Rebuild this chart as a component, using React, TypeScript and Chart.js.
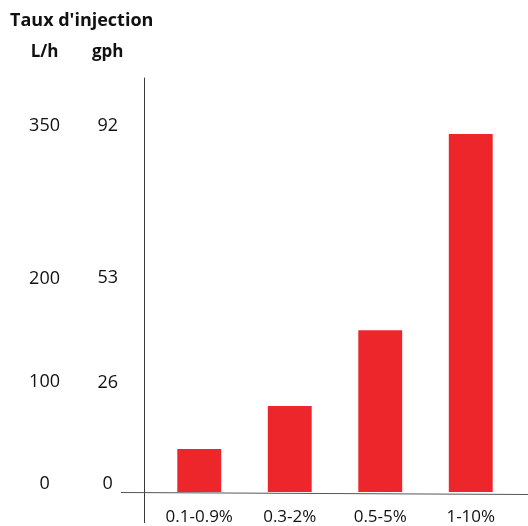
import React, { useEffect, useRef } from "react";
import { Chart, registerables } from "chart.js";

Chart.register(...registerables);

const categories = ["0.1-0.9%", "0.3-2%", "0.5-5%", "1-10%"];
const injectionLh = [42, 84, 158, 350];
const lhTicks = [0, 100, 200, 350];
const gphTicks = [0, 26, 53, 92];
const titleText = "Taux d'injection";
const lhHeader = "L/h";
const gphHeader = "gph";

const FONT = "'Open Sans', 'Noto Sans', sans-serif";
const Y_MAX = 405;
const TICK_SIZE = 18;

const decorPlugin = {
  id: "decor",
  afterDraw(chart: any) {
    const { ctx, chartArea, width } = chart;
    ctx.save();
    ctx.strokeStyle = "#3a3a3a";
    ctx.lineWidth = 1;
    const vx = Math.round(chartArea.left - 10) + 0.5;
    ctx.beginPath();
    ctx.moveTo(vx, chartArea.top);
    ctx.lineTo(vx, chartArea.bottom + 31);
    ctx.stroke();
    const hy = Math.round(chart.scales.y.getPixelForValue(0)) + 0.5;
    ctx.strokeStyle = "#555";
    ctx.beginPath();
    ctx.moveTo(chartArea.left - 33, hy);
    ctx.lineTo(width, hy + 2);
    ctx.stroke();
    ctx.fillStyle = "#111";
    ctx.textAlign = "center";
    ctx.textBaseline = "middle";
    const headers: [string, string][] = [["y", lhHeader], ["y2", gphHeader]];
    headers.forEach(([id, text]) => {
      const s = chart.scales[id];
      ctx.font = `${TICK_SIZE}px ${FONT}`;
      const w = Math.max(...s.ticks.map((t: any) => ctx.measureText(String(t.label)).width));
      const cx = s.right - s.options.ticks.padding - w / 2;
      ctx.font = `bold 17px ${FONT}`;
      ctx.fillText(text, cx, 52);
    });
    ctx.restore();
  },
};

export default function App() {
  const canvasRef = useRef<HTMLCanvasElement>(null);
  useEffect(() => {
    document.body.style.margin = "0";
    const chart = new Chart(canvasRef.current!, {
      type: "bar",
      data: {
        labels: categories,
        datasets: [
          {
            data: injectionLh,
            backgroundColor: "#ED262B",
            barPercentage: 0.485,
            categoryPercentage: 1,
            yAxisID: "y",
          },
        ],
      },
      options: {
        animation: false,
        responsive: true,
        maintainAspectRatio: false,
        layout: { padding: { left: 10, right: 12, top: 0, bottom: 0 } },
        plugins: {
          legend: { display: false },
          tooltip: { enabled: false },
          title: {
            display: true,
            text: titleText,
            align: "start",
            color: "#111",
            font: { family: FONT, size: 18, weight: "bold" },
            padding: { top: 10, bottom: 46 },
          },
        },
        scales: {
          x: {
            grid: { display: false, drawTicks: false },
            border: { display: false },
            ticks: { color: "#111", font: { family: FONT, size: 17 }, padding: 15 },
            afterFit(scale: any) {
              scale.height = 34;
            },
          },
          y: {
            position: "left",
            weight: 1,
            min: 0,
            max: Y_MAX,
            grid: { display: false, drawTicks: false },
            border: { display: false },
            afterBuildTicks(scale: any) {
              scale.ticks = lhTicks.map((v) => ({ value: v }));
            },
            ticks: {
              color: "#111",
              font: { family: FONT, size: TICK_SIZE },
              crossAlign: "center",
              padding: 24,
              labelOffset: -8,
            },
            afterFit(scale: any) {
              scale.width = 74;
              scale.paddingTop = 0;
              scale.paddingBottom = 0;
            },
          },
          y2: {
            position: "left",
            weight: 0,
            min: 0,
            max: (Y_MAX * gphTicks[gphTicks.length - 1]) / lhTicks[lhTicks.length - 1],
            grid: { display: false, drawTicks: false },
            border: { display: false },
            afterBuildTicks(scale: any) {
              scale.ticks = gphTicks.map((v) => ({ value: v }));
            },
            ticks: {
              color: "#111",
              font: { family: FONT, size: TICK_SIZE },
              crossAlign: "center",
              padding: 36,
              labelOffset: -8,
            },
            afterFit(scale: any) {
              scale.width = 70;
              scale.paddingTop = 0;
              scale.paddingBottom = 0;
            },
          },
        },
      },
      plugins: [decorPlugin],
    });
    return () => chart.destroy();
  }, []);
  return (
    <div style={{ width: 528, height: 526, position: "relative" }}>
      <canvas ref={canvasRef} />
    </div>
  );
}
